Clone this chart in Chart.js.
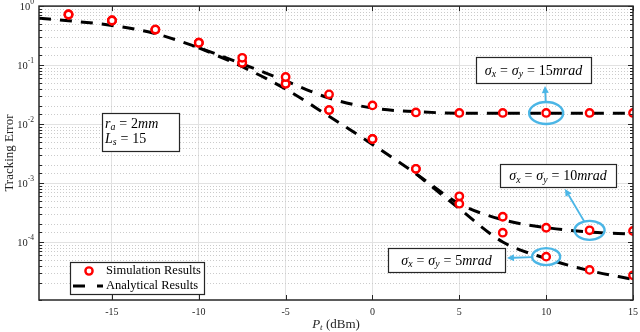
<!DOCTYPE html>
<html>
<head>
<meta charset="utf-8">
<script src="https://cdn.jsdelivr.net/npm/chart.js@4"></script>
<style>
  html, body { margin: 0; padding: 0; background: #fff; }
  #wrap { width: 640px; height: 332px; }
</style>
</head>
<body>
<div id="wrap"><canvas id="chart" width="640" height="332"></canvas></div>
<script>
// Tracking error vs transmit power for three jitter levels

// simulation markers (dBm)
const simPower = [-17.5, -15, -12.5, -10, -7.5, -5, -2.5, 0, 2.5, 5, 7.5, 10, 12.5, 15];
const sim15 = [0.72, 0.57, 0.40, 0.24, 0.133, 0.063, 0.032, 0.0208, 0.0158, 0.0155, 0.0155, 0.0155, 0.0155, 0.0155];
const sim10 = [0.72, 0.57, 0.40, 0.24, 0.11, 0.0485, 0.0173, 0.0056, 0.00175, 0.0006, 0.00027, 0.000176, 0.000159, 0.000155];
const sim5 = [0.72, 0.57, 0.40, 0.24, 0.11, 0.0485, 0.0173, 0.0056, 0.00175, 0.00045, 0.000145, 0.000057, 0.000034, 0.0000275];

// analytical curves
const anaPower = [-19.2, -17.5, -15, -12.5, -10, -7.5, -5, -2.5, 0, 2.5, 5, 7.5, 10, 12.5, 15];
const ana15 = [0.62, 0.565, 0.47, 0.342, 0.197, 0.105, 0.054, 0.0277, 0.0187, 0.0163, 0.01535, 0.0153, 0.0153, 0.0153, 0.0153];
const ana10 = [0.62, 0.565, 0.47, 0.342, 0.197, 0.094, 0.0394, 0.0136, 0.00454, 0.00145, 0.00045, 0.00024, 0.000177, 0.000149, 0.000137];
const ana5 = [0.62, 0.565, 0.47, 0.342, 0.197, 0.094, 0.0394, 0.0136, 0.00454, 0.00145, 0.00037, 0.000101, 0.000053, 0.000033, 0.0000235];
// index where each curve leaves the one drawn before it (shared part is drawn once)
const branchFrom = { ana10: 4, ana5: 9 };

const xTicks = [-15, -10, -5, 0, 5, 10, 15];
const yExponents = [0, -1, -2, -3, -4];

const SERIF = "'Liberation Serif', 'DejaVu Serif', serif";
const AXIS = '#262626';
const CYAN = '#4bb6e6';

// callout boxes: which point is circled and where its label sits
const callouts = [
  { label: '15', at: 10, series: sim15, box: [476, 57, 115, 26], rx: 17, ry: 11, tip: [545, 86] },
  { label: '10', at: 12.5, series: sim10, box: [500, 164, 116, 23], rx: 15, ry: 9.5, tip: [565, 189] },
  { label: '5', at: 10, series: sim5, box: [388, 248, 117, 24], rx: 14, ry: 8.5, tip: [507, 258] }
];

const pairs = (xs, ys) => xs.map((x, i) => ({ x: x, y: ys[i] }));
const isPow10 = v => Math.abs(Math.log10(v) - Math.round(Math.log10(v))) < 1e-6;

function simSet(vals) {
  return {
    data: pairs(simPower, vals),
    showLine: false,
    pointRadius: 3.7,
    pointHoverRadius: 3.7,
    pointBorderWidth: 2.4,
    pointBorderColor: '#ff0000',
    pointBackgroundColor: '#ffffff',
    borderColor: '#ff0000'
  };
}

function anaSet(vals, from) {
  return {
    data: pairs(anaPower, vals).slice(from || 0),
    borderColor: '#000000',
    borderWidth: 3,
    borderDash: [12, 9],
    pointRadius: 0,
    cubicInterpolationMode: 'monotone',
    fill: false
  };
}

// draws a run of math-ish text pieces: i = italic, r = roman, s = subscript, o = relation with wide spacing
function drawMath(ctx, parts, x, y, size, align) {
  const fontFor = p => (p[1] === 'r' || p[1] === 'o' ? '' : 'italic ') + (p[1] === 's' ? size * 0.7 : size) + 'px ' + SERIF;
  const widthOf = p => { ctx.font = fontFor(p); return ctx.measureText(p[0]).width + (p[1] === 'o' ? size * 0.56 : 0); };
  let total = 0;
  parts.forEach(p => { total += widthOf(p); });
  let cx = align === 'center' ? x - total / 2 : x;
  ctx.textAlign = 'left';
  ctx.textBaseline = 'alphabetic';
  parts.forEach(p => {
    const w = widthOf(p);
    ctx.font = fontFor(p);
    const off = p[1] === 'o' ? size * 0.28 : 0;
    ctx.fillText(p[0], cx + off, p[1] === 's' ? y + size * 0.18 : y);
    cx += w;
  });
}

function frameBox(ctx, x, y, w, h) {
  ctx.fillStyle = '#fff';
  ctx.fillRect(x, y, w, h);
  ctx.strokeStyle = AXIS;
  ctx.lineWidth = 1.2;
  ctx.setLineDash([]);
  ctx.strokeRect(x + 0.5, y + 0.5, w, h);
}

const decorations = {
  id: 'decorations',
  beforeDatasetsDraw(chart) {
    // dotted minor grid on the log axis
    const { ctx, chartArea: a, scales: { y } } = chart;
    ctx.save();
    ctx.strokeStyle = '#cbcbcb';
    ctx.lineWidth = 1;
    ctx.setLineDash([1, 2]);
    y.ticks.forEach(t => {
      if (isPow10(t.value)) return;
      const py = Math.round(y.getPixelForValue(t.value)) + 0.5;
      if (py >= a.bottom - 1) return;
      ctx.beginPath();
      ctx.moveTo(a.left, py);
      ctx.lineTo(a.right, py);
      ctx.stroke();
    });
    ctx.restore();
  },
  afterDraw(chart) {
    const { ctx, chartArea: a, scales: { x, y } } = chart;
    ctx.save();

    // axes box
    ctx.strokeStyle = AXIS;
    ctx.lineWidth = 1.5;
    ctx.setLineDash([]);
    ctx.strokeRect(a.left, a.top, a.right - a.left, a.bottom - a.top);

    // inward ticks
    ctx.lineWidth = 1;
    ctx.beginPath();
    xTicks.forEach(v => {
      const px = Math.round(x.getPixelForValue(v)) + 0.5;
      ctx.moveTo(px, a.bottom); ctx.lineTo(px, a.bottom - 5);
      ctx.moveTo(px, a.top); ctx.lineTo(px, a.top + 5);
    });
    y.ticks.forEach(t => {
      const py = Math.round(y.getPixelForValue(t.value)) + 0.5;
      const len = isPow10(t.value) ? 5 : 3;
      ctx.moveTo(a.left, py); ctx.lineTo(a.left + len, py);
      ctx.moveTo(a.right, py); ctx.lineTo(a.right - len, py);
    });
    ctx.stroke();

    // tick labels
    ctx.fillStyle = AXIS;
    ctx.font = '10px ' + SERIF;
    ctx.textAlign = 'center';
    ctx.textBaseline = 'middle';
    xTicks.forEach(v => ctx.fillText(String(v), x.getPixelForValue(v), a.bottom + 12));
    yExponents.forEach(e => {
      const py = y.getPixelForValue(Math.pow(10, e));
      ctx.font = '7.5px ' + SERIF;
      const exp = String(e);
      const ew = ctx.measureText(exp).width;
      ctx.textAlign = 'left';
      ctx.fillText(exp, a.left - 5 - ew, py - 4);
      ctx.font = '10.5px ' + SERIF;
      ctx.textAlign = 'right';
      ctx.fillText('10', a.left - 5 - ew, py + 1);
    });

    // axis titles
    drawMath(ctx, [['P', 'i'], ['t', 's'], [' (dBm)', 'r']], (a.left + a.right) / 2, 328, 13, 'center');
    ctx.save();
    ctx.translate(10, (a.top + a.bottom) / 2);
    ctx.rotate(-Math.PI / 2);
    ctx.font = '13px ' + SERIF;
    ctx.textAlign = 'center';
    ctx.textBaseline = 'middle';
    ctx.fillText('Tracking Error', 0, 0);
    ctx.restore();

    // parameter box
    frameBox(ctx, 102, 113, 77, 38);
    ctx.fillStyle = '#000';
    drawMath(ctx, [['r', 'i'], ['a', 's'], ['=', 'o'], ['2', 'r'], ['mm', 'i']], 105, 127.5, 14, 'left');
    drawMath(ctx, [['L', 'i'], ['s', 's'], ['=', 'o'], ['15', 'r']], 105, 142.5, 14, 'left');

    // legend
    frameBox(ctx, 70, 262, 134, 32);
    ctx.strokeStyle = '#ff0000';
    ctx.lineWidth = 2.4;
    ctx.beginPath();
    ctx.arc(89, 271, 3.6, 0, Math.PI * 2);
    ctx.stroke();
    ctx.strokeStyle = '#000';
    ctx.lineWidth = 3;
    ctx.setLineDash([12, 12]);
    ctx.beginPath();
    ctx.moveTo(73, 286); ctx.lineTo(103, 286);
    ctx.stroke();
    ctx.setLineDash([]);
    ctx.fillStyle = '#000';
    ctx.font = '12.5px ' + SERIF;
    ctx.textAlign = 'left';
    ctx.textBaseline = 'middle';
    ctx.fillText('Simulation Results', 106, 271);
    ctx.fillText('Analytical Results', 106, 286);

    // callouts
    callouts.forEach(c => {
      const cx = x.getPixelForValue(c.at);
      const cy = y.getPixelForValue(c.series[simPower.indexOf(c.at)]);
      ctx.strokeStyle = CYAN;
      ctx.fillStyle = CYAN;
      ctx.lineWidth = 2.4;
      ctx.beginPath();
      ctx.ellipse(cx, cy, c.rx, c.ry, 0, 0, Math.PI * 2);
      ctx.stroke();
      const dx = c.tip[0] - cx, dy = c.tip[1] - cy;
      const t = 1 / Math.sqrt((dx / c.rx) ** 2 + (dy / c.ry) ** 2);
      const sx = cx + dx * t, sy = cy + dy * t;
      const ang = Math.atan2(c.tip[1] - sy, c.tip[0] - sx);
      const hl = 7, hw = 3.5;
      const bx = c.tip[0] - hl * Math.cos(ang), by = c.tip[1] - hl * Math.sin(ang);
      ctx.lineWidth = 1.8;
      ctx.beginPath();
      ctx.moveTo(sx, sy); ctx.lineTo(bx, by);
      ctx.stroke();
      ctx.beginPath();
      ctx.moveTo(c.tip[0], c.tip[1]);
      ctx.lineTo(bx + hw * Math.sin(ang), by - hw * Math.cos(ang));
      ctx.lineTo(bx - hw * Math.sin(ang), by + hw * Math.cos(ang));
      ctx.closePath();
      ctx.fill();

      const [bx0, by0, bw, bh] = c.box;
      frameBox(ctx, bx0, by0, bw, bh);
      ctx.fillStyle = '#000';
      drawMath(ctx, [['σ', 'i'], ['x', 's'], ['=', 'o'], ['σ', 'i'], ['y', 's'], ['=', 'o'], [c.label, 'r'], ['mrad', 'i']],
        bx0 + bw / 2, by0 + bh / 2 + 4.5, 14, 'center');
    });

    ctx.restore();
  }
};

new Chart(document.getElementById('chart'), {
  type: 'line',
  data: {
    datasets: [
      simSet(sim15), simSet(sim10), simSet(sim5),
      anaSet(ana15), anaSet(ana10, branchFrom.ana10), anaSet(ana5, branchFrom.ana5)
    ]
  },
  options: {
    responsive: false,
    animation: false,
    events: [],
    layout: { padding: { left: 39, right: 7, top: 6, bottom: 32 } },
    plugins: { legend: { display: false }, tooltip: { enabled: false } },
    scales: {
      x: {
        type: 'linear',
        min: -19.2,
        max: 15,
        afterBuildTicks: s => { s.ticks = xTicks.map(v => ({ value: v })); },
        ticks: { display: false },
        grid: { color: '#e2e2e2', lineWidth: 1, drawTicks: false },
        border: { display: false }
      },
      y: {
        type: 'logarithmic',
        min: 1.05e-5,
        max: 1,
        ticks: { display: false },
        grid: { color: c => (c.tick && isPow10(c.tick.value) ? '#e2e2e2' : 'rgba(0,0,0,0)'), lineWidth: 1, drawTicks: false },
        border: { display: false }
      }
    }
  },
  plugins: [decorations]
});
</script>
</body>
</html>
